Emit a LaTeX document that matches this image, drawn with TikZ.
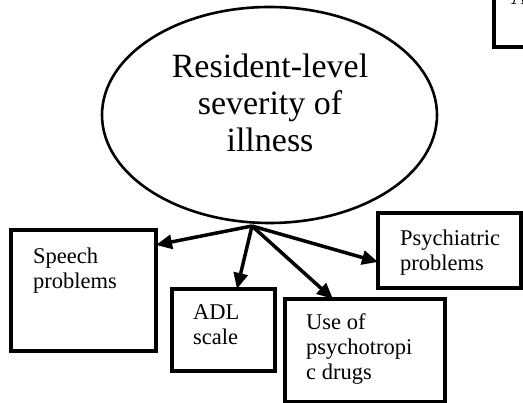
\documentclass[tikz,border=0pt]{standalone}
\usepackage{fontspec}
\setmainfont{Liberation Serif}
\usetikzlibrary{shapes.geometric,arrows.meta}
\begin{document}
\begin{tikzpicture}[x=1pt,y=-1pt,
  box/.style={draw, line width=4pt, rectangle, inner sep=0pt, outer sep=0pt},
  boxtext/.style={font=\fontsize{22.5}{25}\selectfont, align=left, anchor=base west, inner sep=0pt},
  bigtext/.style={font=\fontsize{34}{37}\selectfont, align=center, anchor=base, inner sep=0pt},
  arr/.style={line width=3.5pt, -{Triangle[length=16pt,width=14pt]}}]
\useasboundingbox (0,0) rectangle (523,403);
% central ellipse
\node[draw, ellipse, line width=2.6pt, minimum width=335pt, minimum height=216pt, inner sep=0pt, outer sep=0pt] (E) at (269.5,115) {};
\node[bigtext] (Et) at (270,152) {Resident-level\\severity of\\illness};
% boxes
\node[box, minimum width=145pt, minimum height=121pt] (speech) at (83.5,290.5) {};
\node[box, minimum width=103pt, minimum height=82pt] (adl) at (223.5,330) {};
\node[box, minimum width=160pt, minimum height=103pt] (drugs) at (365,350.5) {};
\node[box, minimum width=143pt, minimum height=75pt] (psych) at (449.5,250.5) {};
\node[box, minimum width=66pt, minimum height=67pt] (topbox) at (527,13.5) {};
% texts
\node[boxtext] (speecht) at (33,289) {Speech\\problems};
\node[boxtext] (adlt) at (193,345) {ADL\\scale};
\node[boxtext] (drugst) at (306,380) {Use of\\psychotropi\\c drugs};
\node[boxtext] (psycht) at (400,271) {Psychiatric\\problems};
\node[boxtext] (topt) at (511,5) {A};
% connectors
\coordinate (hub) at (252,226);
\draw[arr] (hub) -- ([yshift=-15pt]speech.north east);
\draw[arr] (hub) -- ([xshift=13.5pt]adl.north);
\draw[arr] (hub) -- ([xshift=-32pt]drugs.north);
\draw[arr] (hub) -- ([yshift=-49pt]psych.north west);
\end{tikzpicture}
\end{document}
